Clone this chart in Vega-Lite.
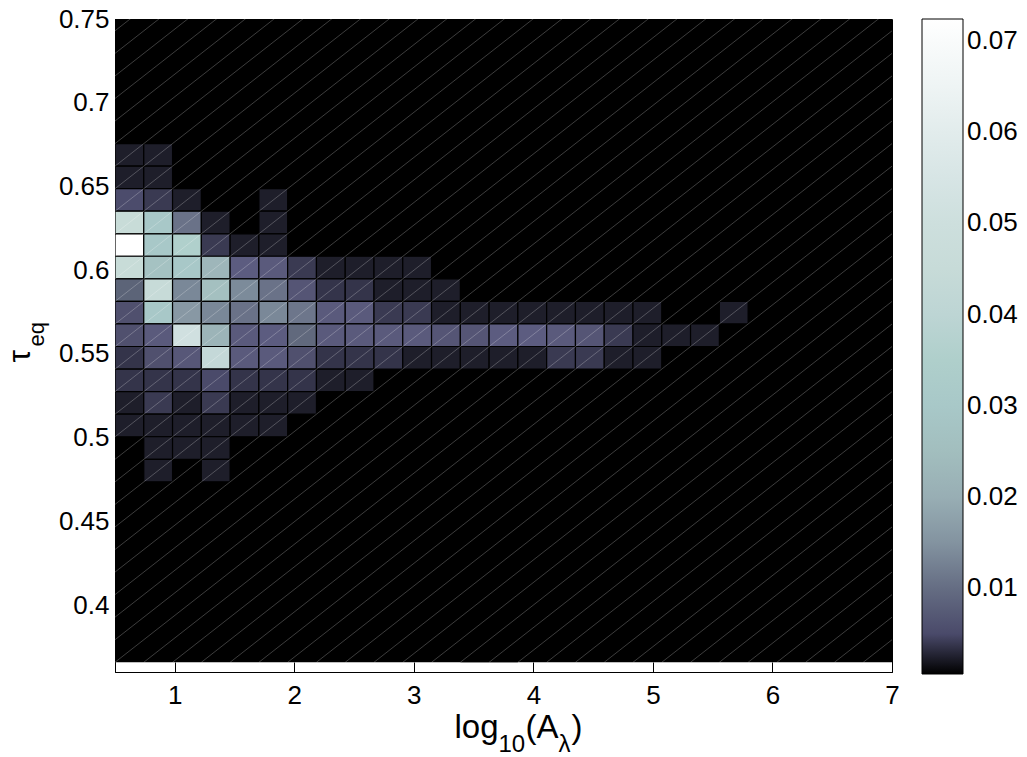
{
  "$schema": "https://vega.github.io/schema/vega-lite/v6.json",
  "width": 777,
  "height": 653,
  "autosize": {"type": "none"},
  "padding": {"left": 115, "top": 19, "right": 135, "bottom": 85},
  "background": "white",
  "config": {
    "font": "Liberation Sans",
    "view": {"stroke": "black", "strokeWidth": 1},
    "axis": {"grid": false, "titleFontWeight": "normal", "titleColor": "black", "labelColor": "black"}
  },
  "resolve": {"axis": {"x": "independent", "y": "independent"}},
  "datasets": {
    "bgL": [{"x": 0.5, "x2": 3.8704, "y": 0.3658, "y2": 0.7564}],
    "bgR": [{"x": 3.3889, "x2": 7, "y": 0.3658, "y2": 0.7564}],
    "cells": [
      {"x":0.5,"x2":0.7407,"y":0.6621,"y2":0.6756,"v":0.0024},
      {"x":0.7407,"x2":0.9815,"y":0.6621,"y2":0.6756,"v":0.0024},
      {"x":0.5,"x2":0.7407,"y":0.6487,"y2":0.6621,"v":0.0024},
      {"x":0.7407,"x2":0.9815,"y":0.6487,"y2":0.6621,"v":0.0024},
      {"x":0.5,"x2":0.7407,"y":0.6352,"y2":0.6487,"v":0.0052},
      {"x":0.7407,"x2":0.9815,"y":0.6352,"y2":0.6487,"v":0.004},
      {"x":0.9815,"x2":1.2222,"y":0.6352,"y2":0.6487,"v":0.0024},
      {"x":1.7037,"x2":1.9444,"y":0.6352,"y2":0.6487,"v":0.0024},
      {"x":0.5,"x2":0.7407,"y":0.6217,"y2":0.6352,"v":0.046},
      {"x":0.7407,"x2":0.9815,"y":0.6217,"y2":0.6352,"v":0.03},
      {"x":0.9815,"x2":1.2222,"y":0.6217,"y2":0.6352,"v":0.0105},
      {"x":1.2222,"x2":1.463,"y":0.6217,"y2":0.6352,"v":0.0024},
      {"x":1.7037,"x2":1.9444,"y":0.6217,"y2":0.6352,"v":0.0024},
      {"x":0.5,"x2":0.7407,"y":0.6083,"y2":0.6217,"v":0.0724},
      {"x":0.7407,"x2":0.9815,"y":0.6083,"y2":0.6217,"v":0.03},
      {"x":0.9815,"x2":1.2222,"y":0.6083,"y2":0.6217,"v":0.036},
      {"x":1.2222,"x2":1.463,"y":0.6083,"y2":0.6217,"v":0.004},
      {"x":1.463,"x2":1.7037,"y":0.6083,"y2":0.6217,"v":0.0024},
      {"x":1.7037,"x2":1.9444,"y":0.6083,"y2":0.6217,"v":0.0024},
      {"x":0.5,"x2":0.7407,"y":0.5948,"y2":0.6083,"v":0.046},
      {"x":0.7407,"x2":0.9815,"y":0.5948,"y2":0.6083,"v":0.027},
      {"x":0.9815,"x2":1.2222,"y":0.5948,"y2":0.6083,"v":0.03},
      {"x":1.2222,"x2":1.463,"y":0.5948,"y2":0.6083,"v":0.022},
      {"x":1.463,"x2":1.7037,"y":0.5948,"y2":0.6083,"v":0.007},
      {"x":1.7037,"x2":1.9444,"y":0.5948,"y2":0.6083,"v":0.0065},
      {"x":1.9444,"x2":2.1852,"y":0.5948,"y2":0.6083,"v":0.004},
      {"x":2.1852,"x2":2.4259,"y":0.5948,"y2":0.6083,"v":0.0024},
      {"x":2.4259,"x2":2.6667,"y":0.5948,"y2":0.6083,"v":0.0024},
      {"x":2.6667,"x2":2.9074,"y":0.5948,"y2":0.6083,"v":0.0024},
      {"x":2.9074,"x2":3.1481,"y":0.5948,"y2":0.6083,"v":0.0024},
      {"x":0.5,"x2":0.7407,"y":0.5813,"y2":0.5948,"v":0.009},
      {"x":0.7407,"x2":0.9815,"y":0.5813,"y2":0.5948,"v":0.045},
      {"x":0.9815,"x2":1.2222,"y":0.5813,"y2":0.5948,"v":0.013},
      {"x":1.2222,"x2":1.463,"y":0.5813,"y2":0.5948,"v":0.026},
      {"x":1.463,"x2":1.7037,"y":0.5813,"y2":0.5948,"v":0.0135},
      {"x":1.7037,"x2":1.9444,"y":0.5813,"y2":0.5948,"v":0.0105},
      {"x":1.9444,"x2":2.1852,"y":0.5813,"y2":0.5948,"v":0.006},
      {"x":2.1852,"x2":2.4259,"y":0.5813,"y2":0.5948,"v":0.0036},
      {"x":2.4259,"x2":2.6667,"y":0.5813,"y2":0.5948,"v":0.0036},
      {"x":2.6667,"x2":2.9074,"y":0.5813,"y2":0.5948,"v":0.0024},
      {"x":2.9074,"x2":3.1481,"y":0.5813,"y2":0.5948,"v":0.0024},
      {"x":3.1481,"x2":3.3889,"y":0.5813,"y2":0.5948,"v":0.0024},
      {"x":0.5,"x2":0.7407,"y":0.5679,"y2":0.5813,"v":0.0055},
      {"x":0.7407,"x2":0.9815,"y":0.5679,"y2":0.5813,"v":0.03},
      {"x":0.9815,"x2":1.2222,"y":0.5679,"y2":0.5813,"v":0.016},
      {"x":1.2222,"x2":1.463,"y":0.5679,"y2":0.5813,"v":0.013},
      {"x":1.463,"x2":1.7037,"y":0.5679,"y2":0.5813,"v":0.0105},
      {"x":1.7037,"x2":1.9444,"y":0.5679,"y2":0.5813,"v":0.013},
      {"x":1.9444,"x2":2.1852,"y":0.5679,"y2":0.5813,"v":0.011},
      {"x":2.1852,"x2":2.4259,"y":0.5679,"y2":0.5813,"v":0.0065},
      {"x":2.4259,"x2":2.6667,"y":0.5679,"y2":0.5813,"v":0.0065},
      {"x":2.6667,"x2":2.9074,"y":0.5679,"y2":0.5813,"v":0.004},
      {"x":2.9074,"x2":3.1481,"y":0.5679,"y2":0.5813,"v":0.004},
      {"x":3.1481,"x2":3.3889,"y":0.5679,"y2":0.5813,"v":0.0024},
      {"x":3.3889,"x2":3.6296,"y":0.5679,"y2":0.5813,"v":0.0024},
      {"x":3.6296,"x2":3.8704,"y":0.5679,"y2":0.5813,"v":0.0024},
      {"x":3.8704,"x2":4.1111,"y":0.5679,"y2":0.5813,"v":0.0024},
      {"x":4.1111,"x2":4.3519,"y":0.5679,"y2":0.5813,"v":0.0024},
      {"x":4.3519,"x2":4.5926,"y":0.5679,"y2":0.5813,"v":0.0024},
      {"x":4.5926,"x2":4.8333,"y":0.5679,"y2":0.5813,"v":0.0024},
      {"x":4.8333,"x2":5.0741,"y":0.5679,"y2":0.5813,"v":0.0024},
      {"x":5.5556,"x2":5.7963,"y":0.5679,"y2":0.5813,"v":0.0024},
      {"x":0.5,"x2":0.7407,"y":0.5544,"y2":0.5679,"v":0.0055},
      {"x":0.7407,"x2":0.9815,"y":0.5544,"y2":0.5679,"v":0.0065},
      {"x":0.9815,"x2":1.2222,"y":0.5544,"y2":0.5679,"v":0.052},
      {"x":1.2222,"x2":1.463,"y":0.5544,"y2":0.5679,"v":0.021},
      {"x":1.463,"x2":1.7037,"y":0.5544,"y2":0.5679,"v":0.0065},
      {"x":1.7037,"x2":1.9444,"y":0.5544,"y2":0.5679,"v":0.007},
      {"x":1.9444,"x2":2.1852,"y":0.5544,"y2":0.5679,"v":0.0095},
      {"x":2.1852,"x2":2.4259,"y":0.5544,"y2":0.5679,"v":0.0065},
      {"x":2.4259,"x2":2.6667,"y":0.5544,"y2":0.5679,"v":0.0065},
      {"x":2.6667,"x2":2.9074,"y":0.5544,"y2":0.5679,"v":0.0065},
      {"x":2.9074,"x2":3.1481,"y":0.5544,"y2":0.5679,"v":0.0065},
      {"x":3.1481,"x2":3.3889,"y":0.5544,"y2":0.5679,"v":0.006},
      {"x":3.3889,"x2":3.6296,"y":0.5544,"y2":0.5679,"v":0.006},
      {"x":3.6296,"x2":3.8704,"y":0.5544,"y2":0.5679,"v":0.007},
      {"x":3.8704,"x2":4.1111,"y":0.5544,"y2":0.5679,"v":0.007},
      {"x":4.1111,"x2":4.3519,"y":0.5544,"y2":0.5679,"v":0.0065},
      {"x":4.3519,"x2":4.5926,"y":0.5544,"y2":0.5679,"v":0.006},
      {"x":4.5926,"x2":4.8333,"y":0.5544,"y2":0.5679,"v":0.004},
      {"x":4.8333,"x2":5.0741,"y":0.5544,"y2":0.5679,"v":0.0024},
      {"x":5.0741,"x2":5.3148,"y":0.5544,"y2":0.5679,"v":0.0024},
      {"x":5.3148,"x2":5.5556,"y":0.5544,"y2":0.5679,"v":0.0024},
      {"x":0.5,"x2":0.7407,"y":0.5409,"y2":0.5544,"v":0.0036},
      {"x":0.7407,"x2":0.9815,"y":0.5409,"y2":0.5544,"v":0.0055},
      {"x":0.9815,"x2":1.2222,"y":0.5409,"y2":0.5544,"v":0.0062},
      {"x":1.2222,"x2":1.463,"y":0.5409,"y2":0.5544,"v":0.042},
      {"x":1.463,"x2":1.7037,"y":0.5409,"y2":0.5544,"v":0.0065},
      {"x":1.7037,"x2":1.9444,"y":0.5409,"y2":0.5544,"v":0.0065},
      {"x":1.9444,"x2":2.1852,"y":0.5409,"y2":0.5544,"v":0.0055},
      {"x":2.1852,"x2":2.4259,"y":0.5409,"y2":0.5544,"v":0.0036},
      {"x":2.4259,"x2":2.6667,"y":0.5409,"y2":0.5544,"v":0.0036},
      {"x":2.6667,"x2":2.9074,"y":0.5409,"y2":0.5544,"v":0.0036},
      {"x":2.9074,"x2":3.1481,"y":0.5409,"y2":0.5544,"v":0.0024},
      {"x":3.1481,"x2":3.3889,"y":0.5409,"y2":0.5544,"v":0.0024},
      {"x":3.3889,"x2":3.6296,"y":0.5409,"y2":0.5544,"v":0.0024},
      {"x":3.6296,"x2":3.8704,"y":0.5409,"y2":0.5544,"v":0.0024},
      {"x":3.8704,"x2":4.1111,"y":0.5409,"y2":0.5544,"v":0.0024},
      {"x":4.1111,"x2":4.3519,"y":0.5409,"y2":0.5544,"v":0.004},
      {"x":4.3519,"x2":4.5926,"y":0.5409,"y2":0.5544,"v":0.004},
      {"x":4.5926,"x2":4.8333,"y":0.5409,"y2":0.5544,"v":0.0024},
      {"x":4.8333,"x2":5.0741,"y":0.5409,"y2":0.5544,"v":0.0024},
      {"x":0.5,"x2":0.7407,"y":0.5274,"y2":0.5409,"v":0.0036},
      {"x":0.7407,"x2":0.9815,"y":0.5274,"y2":0.5409,"v":0.0036},
      {"x":0.9815,"x2":1.2222,"y":0.5274,"y2":0.5409,"v":0.0036},
      {"x":1.2222,"x2":1.463,"y":0.5274,"y2":0.5409,"v":0.005},
      {"x":1.463,"x2":1.7037,"y":0.5274,"y2":0.5409,"v":0.0036},
      {"x":1.7037,"x2":1.9444,"y":0.5274,"y2":0.5409,"v":0.0036},
      {"x":1.9444,"x2":2.1852,"y":0.5274,"y2":0.5409,"v":0.0036},
      {"x":2.1852,"x2":2.4259,"y":0.5274,"y2":0.5409,"v":0.0024},
      {"x":2.4259,"x2":2.6667,"y":0.5274,"y2":0.5409,"v":0.0024},
      {"x":0.5,"x2":0.7407,"y":0.514,"y2":0.5274,"v":0.0024},
      {"x":0.7407,"x2":0.9815,"y":0.514,"y2":0.5274,"v":0.004},
      {"x":0.9815,"x2":1.2222,"y":0.514,"y2":0.5274,"v":0.0024},
      {"x":1.2222,"x2":1.463,"y":0.514,"y2":0.5274,"v":0.004},
      {"x":1.463,"x2":1.7037,"y":0.514,"y2":0.5274,"v":0.0024},
      {"x":1.7037,"x2":1.9444,"y":0.514,"y2":0.5274,"v":0.0024},
      {"x":1.9444,"x2":2.1852,"y":0.514,"y2":0.5274,"v":0.0024},
      {"x":0.5,"x2":0.7407,"y":0.5005,"y2":0.514,"v":0.0024},
      {"x":0.7407,"x2":0.9815,"y":0.5005,"y2":0.514,"v":0.0024},
      {"x":0.9815,"x2":1.2222,"y":0.5005,"y2":0.514,"v":0.0024},
      {"x":1.2222,"x2":1.463,"y":0.5005,"y2":0.514,"v":0.0024},
      {"x":1.463,"x2":1.7037,"y":0.5005,"y2":0.514,"v":0.0024},
      {"x":1.7037,"x2":1.9444,"y":0.5005,"y2":0.514,"v":0.0024},
      {"x":0.7407,"x2":0.9815,"y":0.487,"y2":0.5005,"v":0.0024},
      {"x":0.9815,"x2":1.2222,"y":0.487,"y2":0.5005,"v":0.0024},
      {"x":1.2222,"x2":1.463,"y":0.487,"y2":0.5005,"v":0.0024},
      {"x":0.7407,"x2":0.9815,"y":0.4736,"y2":0.487,"v":0.0024},
      {"x":1.2222,"x2":1.463,"y":0.4736,"y2":0.487,"v":0.0024}
    ],
    "diagA": [
      {"x":-6.2407,"x2":0.7407,"y":0.3658,"y2":0.7564},
      {"x":-6.0,"x2":0.9815,"y":0.3658,"y2":0.7564},
      {"x":-5.7593,"x2":1.2222,"y":0.3658,"y2":0.7564},
      {"x":-5.5185,"x2":1.463,"y":0.3658,"y2":0.7564},
      {"x":-5.2778,"x2":1.7037,"y":0.3658,"y2":0.7564},
      {"x":-5.037,"x2":1.9444,"y":0.3658,"y2":0.7564},
      {"x":-4.7963,"x2":2.1852,"y":0.3658,"y2":0.7564},
      {"x":-4.5556,"x2":2.4259,"y":0.3658,"y2":0.7564},
      {"x":-4.3148,"x2":2.6667,"y":0.3658,"y2":0.7564},
      {"x":-4.0741,"x2":2.9074,"y":0.3658,"y2":0.7564},
      {"x":-3.8333,"x2":3.1481,"y":0.3658,"y2":0.7564},
      {"x":-3.5926,"x2":3.3889,"y":0.3658,"y2":0.7564},
      {"x":-3.3519,"x2":3.6296,"y":0.3658,"y2":0.7564},
      {"x":-3.1111,"x2":3.8704,"y":0.3658,"y2":0.7564},
      {"x":-2.8704,"x2":4.1111,"y":0.3658,"y2":0.7564},
      {"x":-2.6296,"x2":4.3519,"y":0.3658,"y2":0.7564},
      {"x":-2.3889,"x2":4.5926,"y":0.3658,"y2":0.7564},
      {"x":-2.1481,"x2":4.8333,"y":0.3658,"y2":0.7564},
      {"x":-1.9074,"x2":5.0741,"y":0.3658,"y2":0.7564},
      {"x":-1.6667,"x2":5.3148,"y":0.3658,"y2":0.7564},
      {"x":-1.4259,"x2":5.5556,"y":0.3658,"y2":0.7564},
      {"x":-1.1852,"x2":5.7963,"y":0.3658,"y2":0.7564},
      {"x":-0.9444,"x2":6.037,"y":0.3658,"y2":0.7564},
      {"x":-0.7037,"x2":6.2778,"y":0.3658,"y2":0.7564},
      {"x":-0.463,"x2":6.5185,"y":0.3658,"y2":0.7564},
      {"x":-0.2222,"x2":6.7593,"y":0.3658,"y2":0.7564},
      {"x":0.0185,"x2":7.0,"y":0.3658,"y2":0.7564}
    ],
    "diagB": [
      {"x":0.2593,"x2":7.2407,"y":0.3658,"y2":0.7564},
      {"x":0.5,"x2":7.4815,"y":0.3658,"y2":0.7564},
      {"x":0.7407,"x2":7.7222,"y":0.3658,"y2":0.7564},
      {"x":0.9815,"x2":7.963,"y":0.3658,"y2":0.7564},
      {"x":1.2222,"x2":8.2037,"y":0.3658,"y2":0.7564},
      {"x":1.463,"x2":8.4444,"y":0.3658,"y2":0.7564},
      {"x":1.7037,"x2":8.6852,"y":0.3658,"y2":0.7564},
      {"x":1.9444,"x2":8.9259,"y":0.3658,"y2":0.7564},
      {"x":2.1852,"x2":9.1667,"y":0.3658,"y2":0.7564},
      {"x":2.4259,"x2":9.4074,"y":0.3658,"y2":0.7564},
      {"x":2.6667,"x2":9.6481,"y":0.3658,"y2":0.7564},
      {"x":2.9074,"x2":9.8889,"y":0.3658,"y2":0.7564},
      {"x":3.1481,"x2":10.1296,"y":0.3658,"y2":0.7564},
      {"x":3.3889,"x2":10.3704,"y":0.3658,"y2":0.7564},
      {"x":3.6296,"x2":10.6111,"y":0.3658,"y2":0.7564},
      {"x":3.8704,"x2":10.8519,"y":0.3658,"y2":0.7564},
      {"x":4.1111,"x2":11.0926,"y":0.3658,"y2":0.7564},
      {"x":4.3519,"x2":11.3333,"y":0.3658,"y2":0.7564},
      {"x":4.5926,"x2":11.5741,"y":0.3658,"y2":0.7564},
      {"x":4.8333,"x2":11.8148,"y":0.3658,"y2":0.7564},
      {"x":5.0741,"x2":12.0556,"y":0.3658,"y2":0.7564},
      {"x":5.3148,"x2":12.2963,"y":0.3658,"y2":0.7564},
      {"x":5.5556,"x2":12.537,"y":0.3658,"y2":0.7564},
      {"x":5.7963,"x2":12.7778,"y":0.3658,"y2":0.7564},
      {"x":6.037,"x2":13.0185,"y":0.3658,"y2":0.7564},
      {"x":6.2778,"x2":13.2593,"y":0.3658,"y2":0.7564},
      {"x":6.5185,"x2":13.5,"y":0.3658,"y2":0.7564},
      {"x":6.7593,"x2":13.7407,"y":0.3658,"y2":0.7564}
    ]
  },
  "layer": [
    {
      "data": {"name": "bgL"},
      "mark": {"type": "rect", "fill": "black", "clip": true},
      "encoding": {
        "x": {
          "field": "x", "type": "quantitative",
          "scale": {"domain": [0.5, 7], "nice": false, "zero": false},
          "axis": {
            "orient": "bottom",
            "values": [1, 2, 3, 4, 5, 6, 7],
            "format": "d",
            "tickSize": -10,
            "tickColor": "black",
            "domainColor": "black",
            "labelFontSize": 26,
            "labelPadding": 20,
            "labelFlush": false,
            "title": "log",
            "titleFontSize": 33,
            "titleX": 339, "titleY": 65,
            "titleAlign": "left", "titleBaseline": "alphabetic", "titleAngle": 0
          }
        },
        "x2": {"field": "x2"},
        "y": {
          "field": "y", "type": "quantitative",
          "scale": {"domain": [0.36, 0.75], "nice": false, "zero": false},
          "axis": {
            "orient": "left",
            "values": [0.4, 0.45, 0.5, 0.55, 0.6, 0.65, 0.7, 0.75],
            "format": ".2~f",
            "tickSize": -10,
            "tickColor": "black",
            "domainColor": "black",
            "labelFontSize": 26,
            "labelPadding": 16,
            "labelFlush": false,
            "title": "τ",
            "titleFontSize": 32,
            "titleX": -86, "titleY": 343,
            "titleAlign": "left", "titleBaseline": "alphabetic", "titleAngle": 270
          }
        },
        "y2": {"field": "y2"}
      }
    },
    {
      "data": {"name": "bgR"},
      "mark": {"type": "rect", "fill": "black", "clip": true},
      "encoding": {
        "x": {
          "field": "x", "type": "quantitative",
          "scale": {"domain": [0.5, 7], "nice": false, "zero": false},
          "axis": {
            "orient": "bottom", "labels": false, "ticks": false, "domain": false,
            "title": "10", "titleFontSize": 24,
            "titleX": 383, "titleY": 79,
            "titleAlign": "left", "titleBaseline": "alphabetic", "titleAngle": 0
          }
        },
        "x2": {"field": "x2"},
        "y": {
          "field": "y", "type": "quantitative",
          "scale": {"domain": [0.36, 0.75], "nice": false, "zero": false},
          "axis": {
            "orient": "left", "labels": false, "ticks": false, "domain": false,
            "title": "eq", "titleFontSize": 22,
            "titleX": -72, "titleY": 327,
            "titleAlign": "left", "titleBaseline": "alphabetic", "titleAngle": 270
          }
        },
        "y2": {"field": "y2"}
      }
    },
    {
      "data": {"name": "cells"},
      "mark": {"type": "rect", "stroke": "black", "strokeWidth": 1.2, "clip": true},
      "encoding": {
        "x": {
          "field": "x", "type": "quantitative",
          "scale": {"domain": [0.5, 7], "nice": false, "zero": false},
          "axis": {
            "orient": "bottom", "labels": false, "ticks": false, "domain": false,
            "title": "(A", "titleFontSize": 33,
            "titleX": 410, "titleY": 65,
            "titleAlign": "left", "titleBaseline": "alphabetic", "titleAngle": 0
          }
        },
        "x2": {"field": "x2"},
        "y": {
          "field": "y", "type": "quantitative",
          "scale": {"domain": [0.36, 0.75], "nice": false, "zero": false},
          "axis": null
        },
        "y2": {"field": "y2"},
        "color": {
          "field": "v",
          "type": "quantitative",
          "scale": {
            "type": "linear",
            "zero": false,
            "clamp": true,
            "interpolate": "rgb",
            "domain": [0.0006, 0.0018, 0.0024, 0.0036, 0.004, 0.005, 0.0055, 0.0065, 0.007, 0.009, 0.0105, 0.013, 0.016, 0.021, 0.026, 0.03, 0.036, 0.042, 0.046, 0.052, 0.0724],
            "range": ["#000000", "#000000", "#1e1e2a", "#34344a", "#3a3a52", "#4a4a6a", "#50506e", "#5a5a7c", "#5c5c80", "#5c6478", "#6a7288", "#7a8898", "#8898a4", "#9cb4b8", "#a4c0c0", "#a8c8c8", "#b0d0cc", "#c4d8d8", "#c8dcd8", "#d0e0e0", "#ffffff"]
          },
          "legend": {
            "title": null,
            "orient": "right",
            "offset": 30,
            "direction": "vertical",
            "gradientLength": 655,
            "gradientThickness": 41,
            "gradientStrokeColor": "black",
            "gradientStrokeWidth": 1,
            "values": [0.01, 0.02, 0.03, 0.04, 0.05, 0.06, 0.07],
            "format": ".2f",
            "labelFontSize": 26,
            "labelColor": "black",
            "labelOffset": 4,
            "padding": 0
          }
        }
      }
    },
    {
      "data": {"name": "diagA"},
      "mark": {"type": "rule", "stroke": "white", "strokeOpacity": 0.3, "strokeWidth": 0.8, "clip": true},
      "encoding": {
        "x": {
          "field": "x", "type": "quantitative",
          "scale": {"domain": [0.5, 7], "nice": false, "zero": false},
          "axis": {
            "orient": "bottom", "labels": false, "ticks": false, "domain": false,
            "title": "λ", "titleFontSize": 24,
            "titleX": 443, "titleY": 79,
            "titleAlign": "left", "titleBaseline": "alphabetic", "titleAngle": 0
          }
        },
        "x2": {"field": "x2"},
        "y": {
          "field": "y", "type": "quantitative",
          "scale": {"domain": [0.36, 0.75], "nice": false, "zero": false},
          "axis": null
        },
        "y2": {"field": "y2"}
      }
    },
    {
      "data": {"name": "diagB"},
      "mark": {"type": "rule", "stroke": "white", "strokeOpacity": 0.3, "strokeWidth": 0.8, "clip": true},
      "encoding": {
        "x": {
          "field": "x", "type": "quantitative",
          "scale": {"domain": [0.5, 7], "nice": false, "zero": false},
          "axis": {
            "orient": "bottom", "labels": false, "ticks": false, "domain": false,
            "title": ")", "titleFontSize": 33,
            "titleX": 456, "titleY": 65,
            "titleAlign": "left", "titleBaseline": "alphabetic", "titleAngle": 0
          }
        },
        "x2": {"field": "x2"},
        "y": {
          "field": "y", "type": "quantitative",
          "scale": {"domain": [0.36, 0.75], "nice": false, "zero": false},
          "axis": null
        },
        "y2": {"field": "y2"}
      }
    }
  ]
}
